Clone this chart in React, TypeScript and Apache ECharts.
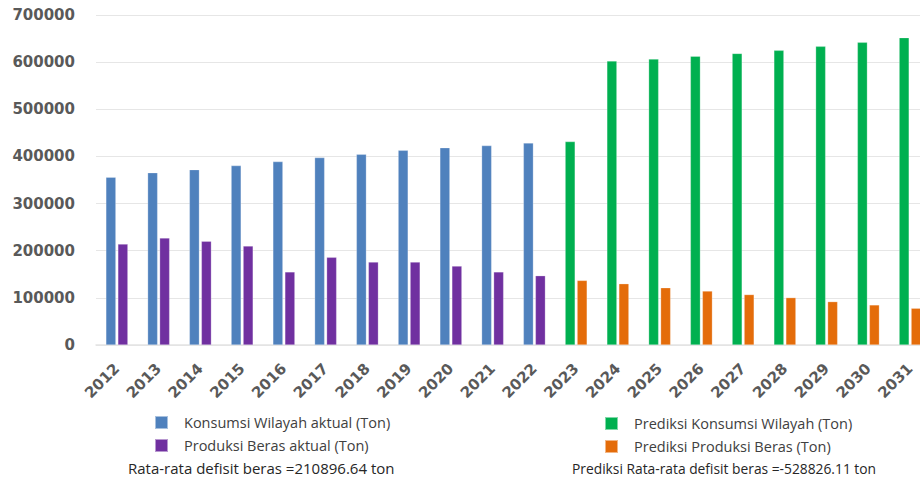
import React, { useEffect, useRef } from "react";
import * as echarts from "echarts";

const years = ["2012","2013","2014","2015","2016","2017","2018","2019","2020","2021","2022","2023","2024","2025","2026","2027","2028","2029","2030","2031"];
const konsumsiAktual = [356000, 365500, 372000, 380500, 389000, 397500, 404500, 413000, 418500, 423000, 428500, null, null, null, null, null, null, null, null, null];
const produksiAktual = [214000, 227000, 220000, 210000, 155000, 186000, 176000, 176000, 167500, 155000, 147000, null, null, null, null, null, null, null, null, null];
const prediksiKonsumsi = [null, null, null, null, null, null, null, null, null, null, null, 431500, 602500, 606500, 612500, 618500, 625000, 633500, 642000, 652000];
const prediksiProduksi = [null, null, null, null, null, null, null, null, null, null, null, 137000, 130000, 121500, 114500, 107000, 100500, 92000, 85000, 78000];
const yTicks = { min: 0, max: 700000, interval: 100000 };
const noteLeft = "Rata-rata defisit beras =210896.64 ton";
const noteRight = "Prediksi Rata-rata defisit beras =-528826.11 ton";

export default function App() {
  const ref = useRef<HTMLDivElement>(null);
  useEffect(() => {
    if (!ref.current) return;
    const chart = echarts.init(ref.current, null, { renderer: "svg" });
    const axisFont = { fontFamily: "DejaVu Sans", fontWeight: "bold", fontSize: 15, color: "#595959" };
    const legendText = { fontFamily: "Open Sans", fontSize: 14.5, color: "#404040", padding: [0, 0, 0, 11] };
    const mk = (name: string, data: (number | null)[], color: string, stack: string) => ({
      name,
      type: "bar",
      stack,
      data,
      barWidth: 10,
      barGap: "20%",
      itemStyle: { color, borderColor: "rgba(255,255,255,0.5)", borderWidth: 0.5 },
    });
    chart.setOption({
      animation: false,
      grid: { left: 96, right: 9, top: 15, bottom: 137, containLabel: false },
      xAxis: {
        type: "category",
        data: years,
        axisTick: { show: false },
        axisLine: { lineStyle: { color: "#e3e3e3", width: 1.5 } },
        axisLabel: { ...axisFont, rotate: 45, margin: 21, interval: 0 },
      },
      yAxis: {
        type: "value",
        ...yTicks,
        axisLine: { show: false },
        axisTick: { show: false },
        splitLine: { lineStyle: { color: "#e6e6e6", width: 1 } },
        axisLabel: { ...axisFont, margin: 21, formatter: (v: number) => String(v) },
      },
      legend: [
        {
          orient: "vertical",
          left: 154,
          top: 415,
          padding: 0,
          itemWidth: 13,
          itemHeight: 13,
          itemGap: 8,
          icon: "rect",
          textStyle: legendText,
          data: ["Konsumsi Wilayah aktual (Ton)", "Produksi Beras aktual (Ton)"],
        },
        {
          orient: "vertical",
          left: 604,
          top: 416,
          padding: 0,
          itemWidth: 13,
          itemHeight: 13,
          itemGap: 8,
          icon: "rect",
          textStyle: legendText,
          data: ["Prediksi Konsumsi Wilayah (Ton)", "Prediksi Produksi Beras (Ton)"],
        },
      ],
      graphic: [
        { type: "text", left: 128, top: 460, style: { text: noteLeft, fontFamily: "Open Sans", fontSize: 15, fill: "#262626" } },
        { type: "text", left: 572, top: 461, style: { text: noteRight, fontFamily: "Open Sans", fontSize: 13.8, fill: "#262626" } },
      ],
      series: [
        mk("Konsumsi Wilayah aktual (Ton)", konsumsiAktual, "#4F81BD", "cons"),
        mk("Produksi Beras aktual (Ton)", produksiAktual, "#7030A0", "prod"),
        mk("Prediksi Konsumsi Wilayah (Ton)", prediksiKonsumsi, "#00B050", "cons"),
        mk("Prediksi Produksi Beras (Ton)", prediksiProduksi, "#E46C0A", "prod"),
      ],
    });
    return () => chart.dispose();
  }, []);
  return (
    <div style={{ position: "fixed", left: 0, top: 0, width: 920, height: 482, overflow: "hidden", background: "#fff" }}>
      <div ref={ref} style={{ width: 940, height: 482 }} />
    </div>
  );
}
